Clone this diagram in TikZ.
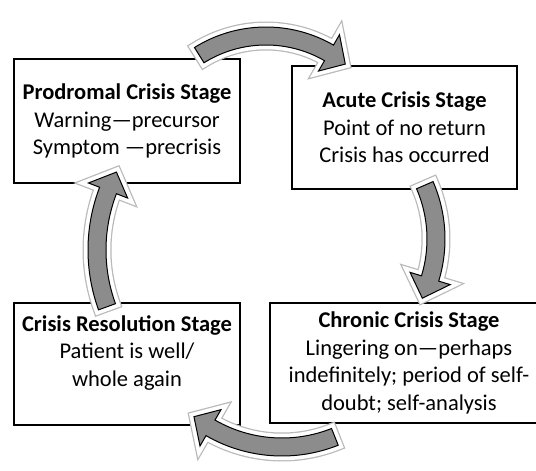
\documentclass[tikz,border=0pt]{standalone}
\usepackage{fontspec}
\setmainfont{Carlito}
\usepackage{tikz}
\usetikzlibrary{positioning, calc}

% curved block arrow: centre, radius, tail angle, head base angle, tip angle
\newcommand{\stagearrow}[5]{%
  \path[bentarrow] ([shift={(#3:#2pt+9pt)}]#1)
    arc[start angle=#3, end angle=#4, radius=#2pt+9pt]
    -- ([shift={(#4:#2pt+21pt)}]#1)
    -- ([shift={(#5:#2pt)}]#1)
    -- ([shift={(#4:#2pt-21pt)}]#1)
    -- ([shift={(#4:#2pt-9pt)}]#1)
    arc[start angle=#4, end angle=#3, radius=#2pt-9pt]
    -- cycle;}

\begin{document}
\begin{tikzpicture}[x=1pt, y=-1pt,
    stage/.style={draw, line width=1.6pt, fill=white, align=center, inner sep=0pt,
      font=\fontsize{22.5}{27.5}\selectfont},
    bentarrow/.style={fill=black!45, draw=black, line width=1pt,
      preaction={draw=gray!55, line width=11pt},
      preaction={draw=white, line width=8.5pt}}]

                        \useasboundingbox (0,0) rectangle (536,471);
                        \clip (0,0) rectangle (536,471);

                        % Boxes for the four stages
                        \node (prodromal) [stage, minimum width=226pt, minimum height=124pt] at (127,121)
                          {\textbf{Prodromal Crisis Stage}\\Warning—precursor\\Symptom —precrisis};
                        \node (acute) [stage, minimum width=225pt, minimum height=123pt] at (404.5,127.5)
                          {\textbf{Acute Crisis Stage}\\Point of no return\\Crisis has occurred};
                        \node (chronic) [stage, minimum width=278pt, minimum height=120pt] at (409,363)
                          {\textbf{Chronic Crisis Stage}\\Lingering on—perhaps\\indefinitely; period of self-\\doubt; self-analysis};
                        \node (resolution) [stage, minimum width=226pt, minimum height=122pt, text depth=26pt] at (127,364)
                          {\textbf{Crisis Resolution Stage}\\Patient is well/\\whole again};

                        % Centres of the arrows
                        \coordinate (topc) at (266,162);
                        \coordinate (rightc) at (301,239);
                        \coordinate (bottomc) at (282,304);
                        \coordinate (leftc) at (263,250);

                        % Arrows between the stages
                        \stagearrow{topc}{126}{122}{60}{51}
                        \stagearrow{rightc}{135}{23.5}{-17}{-26}
                        \stagearrow{bottomc}{143}{-68.3}{-120}{-128}
                        \stagearrow{leftc}{166}{200}{159}{152}

                \end{tikzpicture}
\end{document}
